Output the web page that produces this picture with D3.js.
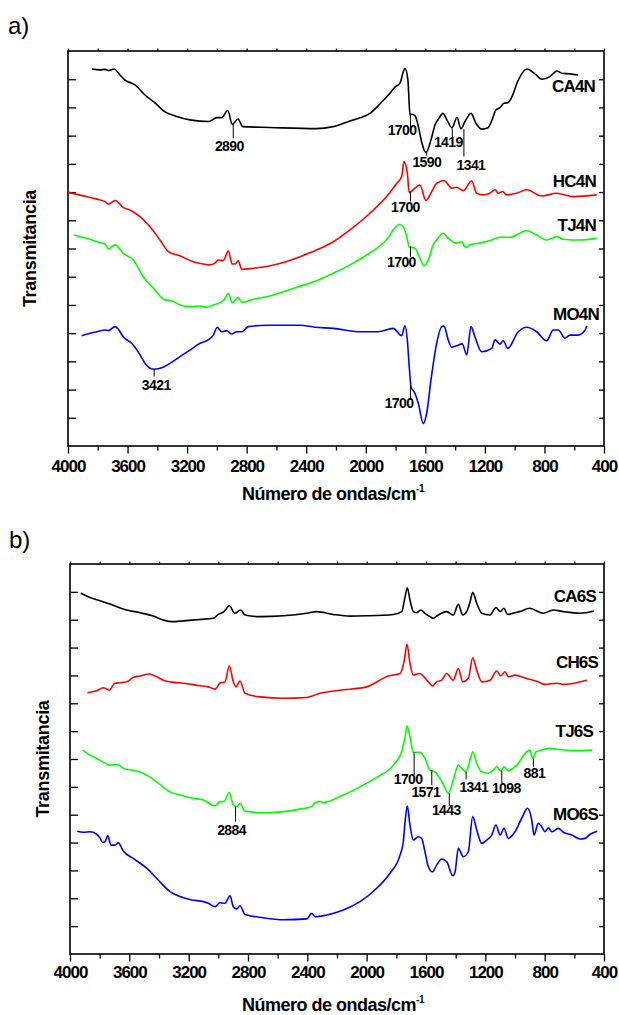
<!DOCTYPE html>
<html>
<head>
<meta charset="utf-8">
<script src="https://cdn.jsdelivr.net/npm/d3@7"></script>
<style>
  body { margin: 0; background: #fff; }
  text { font-family: "Liberation Sans", Arial, sans-serif; }
</style>
</head>
<body>
<div id="chart"></div>
<script>

// Axis ticks (wavenumber, cm-1) and transmittance tick steps
var majorTicks = [4000, 3600, 3200, 2800, 2400, 2000, 1600, 1200, 800, 400];
var minorTicks = [3800, 3400, 3000, 2600, 2200, 1800, 1400, 1000, 600];
var yTicks = [1, 2, 3, 4, 5, 6, 7, 8, 9, 10, 11, 12, 13];

// Panel a) spectra: [wavenumber, transmittance (arbitrary, offset)]
var ca4n = [[3839,13.36],[3785,13.33],[3751,13.35],[3725,13.31],[3691,13.36],[3651,13.15],[3617,12.97],[3550,12.80],[3483,12.44],[3416,12.16],[3349,11.84],[3281,11.70],[3181,11.56],[3053,11.50],[3001,11.64],[2968,11.64],[2927,11.89],[2897,11.40],[2858,11.59],[2827,11.32],[2643,11.29],[2330,11.25],[2220,11.32],[2106,11.52],[2039,11.63],[1972,11.79],[1905,12.12],[1837,12.51],[1804,12.72],[1770,12.86],[1750,13.23],[1737,13.39],[1717,12.97],[1703,11.73],[1692,11.76],[1670,11.71],[1649,11.38],[1623,10.74],[1596,10.40],[1562,10.85],[1535,11.38],[1508,11.62],[1482,11.79],[1455,11.56],[1421,11.28],[1387,11.65],[1361,11.24],[1334,11.50],[1293,11.79],[1260,11.44],[1220,11.23],[1179,11.28],[1152,11.56],[1126,11.91],[1099,11.99],[1072,12.15],[1045,12.17],[1018,12.38],[978,12.94],[917,13.36],[864,13.19],[817,13.00],[763,13.09],[716,13.29],[682,13.21],[629,13.19],[575,13.15]];

var hc4n = [[4000,8.99],[3874,8.84],[3807,8.75],[3751,8.66],[3729,8.57],[3684,8.70],[3629,8.46],[3572,8.33],[3516,8.13],[3449,7.77],[3382,7.30],[3326,6.89],[3248,6.74],[3158,6.53],[3091,6.45],[3046,6.42],[3013,6.48],[2991,6.59],[2957,6.57],[2923,6.91],[2897,6.45],[2878,6.45],[2856,6.56],[2833,6.26],[2755,6.30],[2666,6.36],[2554,6.50],[2442,6.71],[2330,6.95],[2218,7.24],[2106,7.66],[1972,8.25],[1860,8.84],[1792,9.31],[1759,9.55],[1743,10.08],[1721,9.67],[1708,8.98],[1670,9.14],[1636,9.25],[1596,8.70],[1557,9.02],[1524,9.31],[1475,9.41],[1423,9.14],[1390,9.17],[1345,9.05],[1289,9.39],[1255,8.96],[1211,8.90],[1166,8.96],[1132,9.08],[1110,8.96],[1081,9.02],[1054,8.90],[987,8.96],[919,9.08],[819,8.86],[718,8.96],[606,8.84],[449,8.90]];

var tj4n = [[3960,7.48],[3874,7.36],[3785,7.21],[3751,7.16],[3729,6.98],[3684,7.13],[3629,6.83],[3561,6.59],[3494,6.00],[3416,5.53],[3349,5.18],[3304,5.15],[3248,5.00],[3181,4.94],[3113,4.96],[3064,4.92],[3024,5.00],[2979,5.08],[2952,5.18],[2923,5.41],[2897,5.08],[2856,5.26],[2833,5.09],[2755,5.20],[2666,5.29],[2554,5.47],[2442,5.66],[2330,5.86],[2218,6.12],[2106,6.42],[1994,6.77],[1905,7.09],[1851,7.37],[1811,7.69],[1774,7.85],[1748,7.77],[1725,7.42],[1707,7.05],[1670,7.01],[1636,6.65],[1609,6.39],[1580,6.59],[1547,7.13],[1524,7.30],[1479,7.54],[1446,7.36],[1390,7.19],[1356,7.24],[1329,7.04],[1300,7.13],[1233,7.19],[1154,7.30],[1099,7.40],[1032,7.40],[919,7.63],[852,7.48],[785,7.30],[718,7.42],[674,7.33],[561,7.30],[449,7.36]];

var mo4n = [[3908,3.91],[3830,4.02],[3751,4.11],[3729,4.09],[3684,4.23],[3662,4.14],[3629,3.87],[3572,3.64],[3516,3.23],[3483,2.93],[3427,2.72],[3360,2.79],[3315,2.93],[3248,3.17],[3181,3.40],[3113,3.64],[3058,3.76],[3024,3.93],[2997,4.21],[2968,4.05],[2934,4.09],[2901,3.97],[2867,4.05],[2833,4.05],[2789,4.23],[2666,4.28],[2442,4.28],[2341,4.21],[2218,4.17],[2039,4.05],[1916,4.05],[1815,4.17],[1759,3.91],[1737,4.26],[1721,3.76],[1708,2.81],[1696,2.10],[1670,1.87],[1647,1.51],[1614,0.80],[1591,1.16],[1562,2.34],[1524,3.64],[1490,4.23],[1475,4.25],[1446,3.76],[1423,3.50],[1390,3.55],[1352,3.62],[1322,3.23],[1293,4.23],[1267,3.87],[1222,3.34],[1154,3.46],[1132,3.76],[1099,3.61],[1077,3.73],[1047,3.46],[976,4.05],[919,4.21],[852,4.05],[785,3.73],[741,4.11],[707,4.11],[662,3.82],[629,3.93],[575,3.93],[528,4.09],[516,4.25]];

// Panel b) spectra
var ca6s = [[3928,12.95],[3865,12.80],[3798,12.68],[3730,12.56],[3618,12.35],[3528,12.25],[3438,12.13],[3371,11.99],[3314,11.93],[3236,11.96],[3124,12.01],[3034,12.05],[3000,12.19],[2962,12.29],[2926,12.50],[2888,12.23],[2849,12.35],[2820,12.17],[2719,12.11],[2562,12.14],[2404,12.23],[2337,12.29],[2225,12.19],[2112,12.13],[2000,12.14],[1820,12.19],[1764,12.29],[1741,12.82],[1726,13.15],[1708,12.71],[1685,12.29],[1663,12.25],[1636,12.35],[1607,12.23],[1573,12.11],[1551,12.05],[1517,12.17],[1460,12.29],[1416,12.17],[1382,12.55],[1352,12.17],[1326,12.29],[1303,12.64],[1285,12.98],[1258,12.59],[1224,12.23],[1168,12.17],[1128,12.44],[1101,12.29],[1074,12.41],[1052,12.19],[1000,12.25],[955,12.31],[903,12.41],[809,12.23],[742,12.35],[674,12.29],[562,12.23],[467,12.31]];

var ch6s = [[3883,9.38],[3820,9.45],[3776,9.56],[3735,9.47],[3697,9.72],[3663,9.74],[3618,9.77],[3573,9.93],[3528,9.98],[3465,10.05],[3416,9.95],[3371,9.83],[3314,9.76],[3236,9.72],[3124,9.63],[3068,9.59],[3022,9.51],[2989,9.72],[2955,9.77],[2926,10.34],[2899,9.77],[2881,9.59],[2854,9.80],[2820,9.36],[2719,9.23],[2562,9.18],[2404,9.21],[2315,9.36],[2180,9.47],[2000,9.59],[1854,9.98],[1775,10.07],[1746,10.55],[1728,11.12],[1708,10.43],[1685,10.01],[1645,10.07],[1584,9.77],[1557,9.62],[1528,9.77],[1494,9.83],[1460,10.07],[1416,9.83],[1382,10.25],[1352,9.77],[1315,9.89],[1285,10.63],[1258,10.19],[1224,9.77],[1168,9.83],[1123,10.16],[1096,9.98],[1067,10.13],[1045,9.95],[1000,10.01],[921,9.89],[843,9.77],[798,9.68],[719,9.72],[674,9.68],[584,9.74],[516,9.83]];

var tj6s = [[3914,7.32],[3865,7.14],[3798,6.96],[3730,6.78],[3685,6.81],[3629,6.64],[3550,6.57],[3483,6.42],[3416,6.18],[3326,5.82],[3258,5.71],[3169,5.59],[3101,5.53],[3022,5.32],[2989,5.47],[2962,5.47],[2926,5.80],[2899,5.35],[2876,5.29],[2854,5.41],[2820,5.13],[2674,5.07],[2562,5.11],[2449,5.20],[2370,5.29],[2348,5.43],[2315,5.47],[2292,5.44],[2157,5.71],[2045,6.00],[1932,6.34],[1820,6.78],[1764,7.26],[1741,7.80],[1728,8.18],[1708,7.80],[1685,7.24],[1640,7.24],[1607,7.02],[1573,6.60],[1539,6.54],[1487,6.13],[1450,5.77],[1416,6.24],[1382,6.78],[1359,6.66],[1330,6.54],[1303,6.96],[1285,7.26],[1258,6.84],[1224,6.54],[1180,6.49],[1146,6.60],[1123,6.72],[1096,6.57],[1074,6.72],[1045,6.58],[988,6.78],[921,7.26],[899,7.32],[881,7.02],[858,7.26],[820,7.32],[764,7.38],[719,7.35],[607,7.30],[479,7.32]];

var mo6s = [[3951,4.41],[3910,4.37],[3865,4.39],[3843,4.37],[3798,4.17],[3780,4.01],[3764,4.03],[3746,4.25],[3724,3.91],[3697,3.91],[3674,3.99],[3641,3.70],[3573,3.43],[3483,3.08],[3416,2.72],[3326,2.24],[3258,2.06],[3180,1.94],[3101,1.88],[3068,1.82],[3022,1.70],[2989,1.84],[2955,1.82],[2921,2.09],[2899,1.70],[2876,1.62],[2854,1.73],[2820,1.42],[2697,1.30],[2562,1.23],[2404,1.26],[2370,1.46],[2348,1.34],[2269,1.40],[2157,1.58],[2045,1.88],[1932,2.36],[1843,2.90],[1775,3.55],[1753,4.03],[1741,4.75],[1726,5.31],[1708,4.63],[1685,4.09],[1652,4.21],[1629,4.15],[1607,3.67],[1584,3.13],[1557,2.95],[1528,3.19],[1494,3.41],[1460,3.31],[1420,2.81],[1404,2.95],[1382,3.79],[1348,3.49],[1315,3.67],[1285,4.93],[1258,4.45],[1224,3.97],[1191,4.09],[1157,4.27],[1128,4.63],[1101,4.27],[1074,4.51],[1045,4.15],[1000,4.39],[944,4.99],[917,5.23],[887,4.81],[872,4.27],[843,4.69],[820,4.57],[798,4.39],[775,4.53],[752,4.39],[708,4.51],[674,4.37],[617,4.27],[562,4.13],[528,4.15],[494,4.30],[445,4.41]];

// Peak markers: wavenumber of the tick line, its printed value, line ends
var peaksA = [
  { at: 2890, text: '2890', top: 11.41, bottom: 10.91 },
  { at: 1700, text: '1700', top: 11.79, bottom: 11.14 },
  { at: 1590, text: '1590', top: 10.40, bottom: 10.29 },
  { at: 1419, text: '1419', top: 11.26, bottom: 10.91 },
  { at: 1341, text: '1341', top: 11.23, bottom: 10.26 },
  { at: 1700, text: '1700', top: 9.02, bottom: 8.66 },
  { at: 1700, text: '1700', top: 7.07, bottom: 6.71 },
  { at: 3421, text: '3421', top: 2.72, bottom: 2.46 },
  { at: 1700, text: '1700', top: 2.14, bottom: 1.63 }
];
var peaksB = [
  { at: 2884, text: '2884', top: 5.29, bottom: 4.75 },
  { at: 1680, text: '1700', top: 7.24, bottom: 6.42 },
  { at: 1561, text: '1571', top: 6.60, bottom: 6.06 },
  { at: 1443, text: '1443', top: 5.77, bottom: 5.31 },
  { at: 1330, text: '1341', top: 6.54, bottom: 6.27 },
  { at: 1089, text: '1098', top: 6.58, bottom: 6.13 },
  { at: 876, text: '881', top: 7.02, bottom: 6.72 }
];

// Label placement (layout only)
var peakLayoutA = [
  { anchor: 'middle', dx: -4, dy: 12.4 },
  { anchor: 'end', dx: 6, dy: 3 },
  { anchor: 'middle', dx: 0, dy: 11 },
  { anchor: 'middle', dx: -4, dy: 8.4 },
  { anchor: 'middle', dx: 7, dy: 13.3 },
  { anchor: 'middle', dx: -5, dy: 10 },
  { anchor: 'middle', dx: -9, dy: 10 },
  { anchor: 'middle', dx: 2, dy: 13.3 },
  { anchor: 'end', dx: 3, dy: 8.3 }
];
var peakLayoutB = [
  { anchor: 'middle', dx: -4, dy: 13.3 },
  { anchor: 'middle', dx: -6, dy: 9 },
  { anchor: 'middle', dx: -6, dy: 11.7 },
  { anchor: 'middle', dx: -3, dy: 9 },
  { anchor: 'middle', dx: 7.7, dy: 12.4 },
  { anchor: 'middle', dx: 4.5, dy: 10 },
  { anchor: 'middle', dx: 1, dy: 11.6 }
];

var namePosA = [[460, 12.55], [454, 9.18], [454, 7.62], [434, 4.47]];
var namePosB = [[454, 12.63], [440, 10.27], [474, 7.79], [440, 4.81]];

var colors = ['#000000', '#ff0000', '#00ff00', '#0000ff'];

var svg = d3.select('#chart').append('svg')
  .attr('width', 619)
  .attr('height', 1015);

function drawPanel(p) {

  var x = d3.scaleLinear().domain([4000, 400]).range([p.left, p.right]);
  var y = d3.scaleLinear().domain([0, 14]).range([p.bottom, p.top]);

  var g = svg.append('g');

  // Bottom axis, major ticks with labels
  var bottomMajor = g.append('g')
      .attr('transform', 'translate(0,' + p.bottom + ')')
      .call(d3.axisBottom(x).tickValues(majorTicks).tickSize(7.5).tickPadding(p.pad).tickFormat(d3.format('d')));
  bottomMajor.selectAll('text')
      .attr('fill', '#000')
      .style('font-size', '17px')
      .style('font-weight', 'bold')
      .style('letter-spacing', '-1px');

  g.append('g')
      .attr('transform', 'translate(0,' + p.bottom + ')')
      .call(d3.axisBottom(x).tickValues(minorTicks).tickSize(4.5).tickFormat(''));

  // Top axis
  g.append('g')
      .attr('transform', 'translate(0,' + p.top + ')')
      .call(d3.axisTop(x).tickValues(majorTicks.concat(minorTicks)).tickSize(2.5).tickFormat(''));

  // Left and right axes, ticks pointing in
  g.append('g')
      .attr('transform', 'translate(' + p.left + ',0)')
      .call(d3.axisLeft(y).tickValues(yTicks).tickSize(-8).tickFormat(''));

  g.append('g')
      .attr('transform', 'translate(' + p.right + ',0)')
      .call(d3.axisRight(y).tickValues(yTicks).tickSize(-5).tickFormat(''));

  g.selectAll('.domain').remove();
  g.selectAll('.tick line').attr('stroke', '#000').attr('stroke-width', 1.3);

  g.append('rect')
      .attr('x', p.left)
      .attr('y', p.top)
      .attr('width', p.right - p.left)
      .attr('height', p.bottom - p.top)
      .attr('fill', 'none')
      .attr('stroke', '#000')
      .attr('stroke-width', 1.6);

  // Spectra
  var line = d3.line()
      .x(function (d) { return x(d[0]); })
      .y(function (d) { return y(d[1]); })
      .curve(d3.curveMonotoneX);

  g.selectAll('path.spectrum')
      .data(p.series)
      .enter()
    .append('path')
      .attr('class', 'spectrum')
      .attr('d', line)
      .attr('fill', 'none')
      .attr('stroke', function (d, i) { return colors[i]; })
      .attr('stroke-width', 1.6)
      .attr('stroke-linejoin', 'round');

  // Sample names
  g.selectAll('text.name')
      .data(p.names)
      .enter()
    .append('text')
      .attr('class', 'name')
      .attr('x', function (d, i) { return x(p.namePos[i][0]); })
      .attr('y', function (d, i) { return y(p.namePos[i][1]); })
      .attr('text-anchor', 'end')
      .style('font-size', '17px')
      .style('font-weight', 'bold')
      .style('letter-spacing', '-0.8px')
      .text(function (d) { return d; });

  // Peak markers
  var peaks = g.selectAll('g.peak')
      .data(p.peaks)
      .enter()
    .append('g')
      .attr('class', 'peak');

  peaks.append('line')
      .attr('x1', function (d) { return x(d.at); })
      .attr('x2', function (d) { return x(d.at); })
      .attr('y1', function (d) { return y(d.top); })
      .attr('y2', function (d) { return y(d.bottom); })
      .attr('stroke', '#000')
      .attr('stroke-width', 1);

  peaks.append('text')
      .attr('x', function (d, i) { return x(d.at) + p.peakLayout[i].dx; })
      .attr('y', function (d, i) { return y(d.bottom) + p.peakLayout[i].dy; })
      .attr('text-anchor', function (d, i) { return p.peakLayout[i].anchor; })
      .style('font-size', '14px')
      .style('font-weight', 'bold')
      .style('letter-spacing', '-0.6px')
      .text(function (d) { return d.text; });

  // Axis titles
  var xt = g.append('text')
      .attr('x', p.titleX)
      .attr('y', p.titleY)
      .attr('text-anchor', 'middle')
      .style('font-size', '18px')
      .style('font-weight', 'bold')
      .style('letter-spacing', '-0.5px');
  xt.append('tspan').text('Número de ondas/cm');
  xt.append('tspan').attr('dy', -8).style('font-size', '10px').text('-1');

  g.append('text')
      .attr('transform', 'translate(' + p.yTitleX + ',' + ((p.top + p.bottom) / 2) + ') rotate(-90)')
      .attr('text-anchor', 'middle')
      .style('font-size', '18px')
      .style('font-weight', 'bold')
      .style('letter-spacing', '-0.3px')
      .text('Transmitancia');

  g.append('text')
      .attr('x', p.letterX)
      .attr('y', p.letterY)
      .style('font-size', '24px')
      .text(p.letter);
}

drawPanel({
  left: 68, right: 604, top: 51, bottom: 446, pad: 6.5,
  series: [ca4n, hc4n, tj4n, mo4n],
  names: ['CA4N', 'HC4N', 'TJ4N', 'MO4N'],
  namePos: namePosA,
  peaks: peaksA, peakLayout: peakLayoutA,
  titleX: 333, titleY: 500, yTitleX: 36,
  letter: 'a)', letterX: 8, letterY: 34
});

drawPanel({
  left: 70, right: 604, top: 564, bottom: 954, pad: 4,
  series: [ca6s, ch6s, tj6s, mo6s],
  names: ['CA6S', 'CH6S', 'TJ6S', 'MO6S'],
  namePos: namePosB,
  peaks: peaksB, peakLayout: peakLayoutB,
  titleX: 333, titleY: 1011, yTitleX: 49,
  letter: 'b)', letterX: 9, letterY: 548
});

</script>
</body>
</html>
